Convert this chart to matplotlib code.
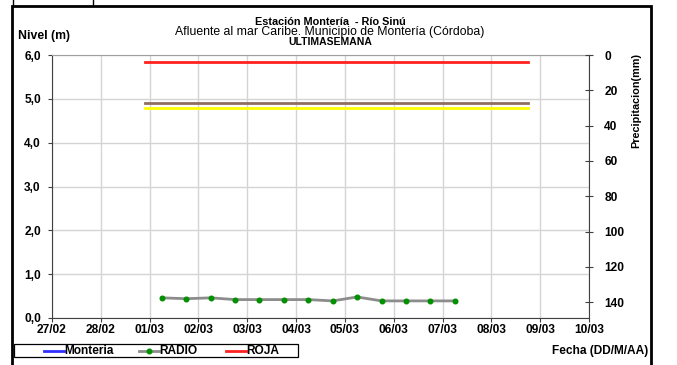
import matplotlib
matplotlib.use("Agg")
import matplotlib.pyplot as plt
import matplotlib.dates as mdates
from matplotlib.lines import Line2D
from matplotlib.patches import Rectangle
import pandas as pd

plt.rcParams['font.family'] = ['Liberation Sans', 'DejaVu Sans']

# datos
radio_fechas = pd.to_datetime([
    '2013-03-01 06:00', '2013-03-01 18:00', '2013-03-02 06:00', '2013-03-02 18:00',
    '2013-03-03 06:00', '2013-03-03 18:00', '2013-03-04 06:00', '2013-03-04 18:00',
    '2013-03-05 06:00', '2013-03-05 18:00', '2013-03-06 06:00', '2013-03-06 18:00',
    '2013-03-07 06:00'])
radio_nivel = [0.46, 0.44, 0.46, 0.42, 0.42, 0.42, 0.42, 0.39, 0.48, 0.39, 0.39, 0.39, 0.39]

umbral_fechas = pd.to_datetime(['2013-02-28 21:30', '2013-03-08 18:00'])
umbral_roja = 5.85
umbral_naranja = 4.90
umbral_amarilla = 4.80

fecha_ini = pd.Timestamp('2013-02-27')
fecha_fin = pd.Timestamp('2013-03-10')
ticks_fecha = pd.date_range(fecha_ini, fecha_fin, freq='D')
ticks_nivel = [0, 1, 2, 3, 4, 5, 6]
ticks_precip = [0, 20, 40, 60, 80, 100, 120, 140]

leyenda_nombres = ['Monteria', 'RADIO', 'ROJA']

W, H = 677, 365
fig = plt.figure(figsize=(W / 100, H / 100), dpi=100)

def px(x, y):
    return x / W, 1 - y / H

# marco exterior
fig.patches.append(Rectangle((12 / W, -0.05), (651 - 12) / W, 1.05 - 6 / H,
                             transform=fig.transFigure, fill=False,
                             edgecolor='black', linewidth=2))
# restos de la tabla de arriba
for xp in (13, 93):
    fig.add_artist(Line2D([xp / W, xp / W], [1 - 5 / H, 1.0],
                          transform=fig.transFigure, color='black', lw=1))

ax = fig.add_axes([52 / W, (H - 318) / H, (589 - 52) / W, (318 - 55) / H])

gris = '#d4d4d4'
ax.plot(umbral_fechas, [umbral_roja] * 2, color='#ff2020', lw=2)
ax.plot(umbral_fechas, [umbral_naranja] * 2, color='#8f6f60', lw=2)
ax.plot(umbral_fechas, [umbral_amarilla] * 2, color='#ffff00', lw=2)
ax.plot(radio_fechas, radio_nivel, color='#8c8c8c', lw=2,
        marker='o', markersize=3.3, markerfacecolor='#009000', markeredgecolor='#009000')

ax.set_xlim(fecha_ini, fecha_fin)
ax.set_ylim(0, 6)
ax.set_xticks(ticks_fecha)
ax.xaxis.set_major_formatter(mdates.DateFormatter('%d/%m'))
ax.set_yticks(ticks_nivel)
ax.set_yticklabels([f'{v:.1f}'.replace('.', ',') for v in ticks_nivel])
ax.grid(True, color=gris, lw=1)
ax.set_axisbelow(True)
ax.tick_params(labelsize=8.6, length=3, color='#404040', pad=1)
ax.tick_params(axis='y', pad=5)
for lab in ax.get_xticklabels() + ax.get_yticklabels():
    lab.set_fontweight('bold')
ax.spines['left'].set_color('#404040')
ax.spines['bottom'].set_color('#404040')
ax.spines['top'].set_color('#a0a0a0')
ax.spines['right'].set_visible(False)

ax2 = ax.twinx()
ax2.set_ylim(149, 0)
ax2.set_yticks(ticks_precip)
ax2.tick_params(labelsize=8.6, direction='inout', length=6, color='#404040', pad=8)
for lab in ax2.get_yticklabels():
    lab.set_fontweight('bold')
for s in ('left', 'top', 'bottom'):
    ax2.spines[s].set_visible(False)
ax2.spines['right'].set_color('#404040')

# textos
fig.text(*px(330, 22), 'Estación Montería  - Río Sinú', ha='center', va='center',
         fontsize=7.8, fontweight='bold')
fig.text(*px(330, 32), 'Afluente al mar Caribe. Municipio de Montería (Córdoba)',
         ha='center', va='center', fontsize=8.8)
fig.text(*px(330, 42), 'ULTIMASEMANA', ha='center', va='center',
         fontsize=7.5, fontweight='bold')
fig.text(*px(18, 36), 'Nivel (m)', ha='left', va='center', fontsize=8.8, fontweight='bold')
fig.text(*px(636, 100), 'Precipitacion(mm)', ha='center', va='center', rotation=90,
         fontsize=7.8, fontweight='bold')
fig.text(*px(648, 351), 'Fecha (DD/M/AA)', ha='right', va='center',
         fontsize=8.6, fontweight='bold')

# leyenda dibujada a mano
fig.patches.append(Rectangle(px(14, 357), (298 - 14) / W, 13 / H,
                             transform=fig.transFigure, fill=False,
                             edgecolor='black', linewidth=0.9))
estilos = [
    dict(color='#3030ff', lw=2),
    dict(color='#8c8c8c', lw=2, marker='o', markersize=3.3, markevery=[1],
         markerfacecolor='#009000', markeredgecolor='#009000'),
    dict(color='#ff2020', lw=2),
]
x_linea = [(44, 64), (139, 159), (226, 246)]
yl = 351
for nombre, est, (x0, x1) in zip(leyenda_nombres, estilos, x_linea):
    fig.add_artist(Line2D([x0 / W, (x0 + x1) / 2 / W, x1 / W], [1 - yl / H] * 3,
                          transform=fig.transFigure, **est))
    fig.text(*px(x1, yl), nombre, ha='left', va='center', fontsize=8.6, fontweight='bold')

fig.savefig('out.png', dpi=100)
